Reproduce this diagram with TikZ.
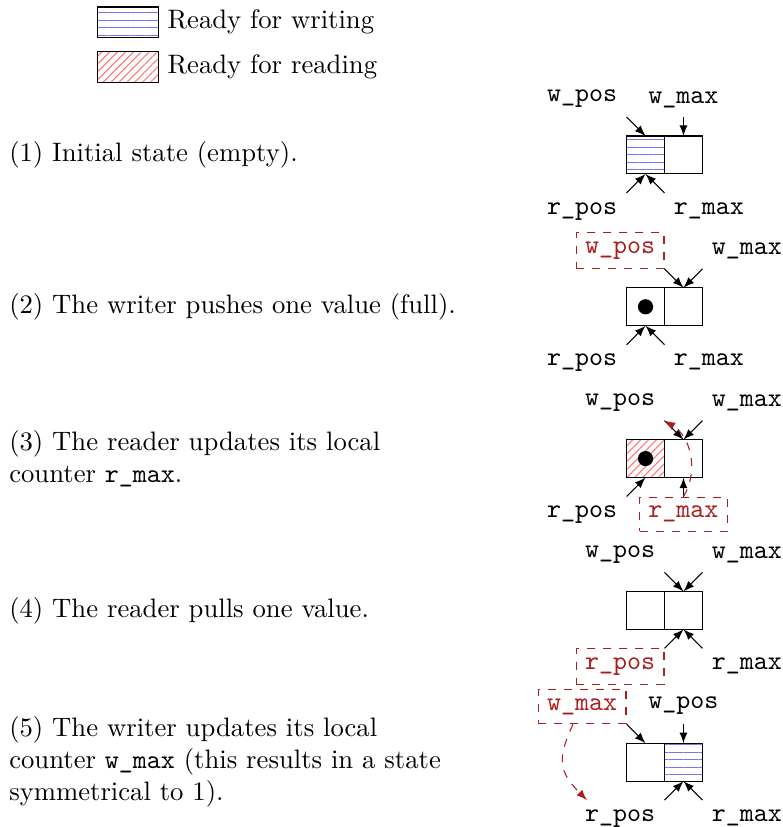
\documentclass[tikz,border=0pt]{standalone}
\usepackage{fontspec}
\usetikzlibrary{patterns.meta,arrows}
\definecolor{dred}{RGB}{170,30,30}
\tikzset{
  cell/.style={draw, rectangle, minimum width=0.5cm, minimum height=0.5cm, inner sep=0pt, outer sep=0pt},
  wpat/.style={pattern={Lines[angle=0,distance=2.8pt,line width=0.4pt]}, pattern color=blue!55},
  rpat/.style={pattern={Lines[angle=45,distance=2.1pt,line width=0.4pt]}, pattern color=red!55},
  dot/.style={circle, fill=black, minimum size=0.2cm, inner sep=0pt},
  lbl/.style={font=\ttfamily},
  chg/.style={lbl, draw=dred, text=dred, dashed},
  ptr/.style={-latex},
  upd/.style={-latex, dashed, draw=dred},
  desc/.style={anchor=west, text width=5.9cm, align=left, inner sep=0pt},
}
\begin{document}
\begin{tikzpicture}
\useasboundingbox (-8.755,-8.854) rectangle (1.561,2.042);

% legend
\node[cell, minimum width=0.8cm, minimum height=0.4cm, wpat] (lw) at (-7.071,1.75) {};
\node[anchor=west] (lwt) at (lw.east) {Ready for writing};
\node[cell, minimum width=0.8cm, minimum height=0.4cm, rpat] (lr) at (-7.071,1.16) {};
\node[anchor=west] (lrt) at (lr.east) {Ready for reading};

% descriptions
\node[desc] (t1) at (-8.64,0) {(1) Initial state (empty).};
\node[desc] (t2) at (-8.64,-2) {(2) The writer pushes one value (full).};
\node[desc] (t3) at (-8.64,-4) {(3) The reader updates its local counter \texttt{r\_max}.};
\node[desc] (t4) at (-8.64,-6) {(4) The reader pulls one value.};
\node[desc] (t5) at (-8.64,-8) {(5) The writer updates its local counter \texttt{w\_max} (this results in a state symmetrical to 1).};

% stage 1
\node[cell, wpat] (c1a) at (-0.25,0) {};
\node[cell] (c1b) at (0.25,0) {};
\node[lbl, anchor=south east] (w1) at (-0.5,0.5) {w\_pos};
\node[lbl, anchor=south] (x1) at (0.25,0.5) {w\_max};
\node[lbl, anchor=north east] (r1) at (-0.5,-0.5) {r\_pos};
\node[lbl, anchor=north west] (m1) at (0,-0.5) {r\_max};
\draw[ptr] (w1.south east) -- (c1a.north);
\draw[ptr] (x1.south) -- (c1b.north);
\draw[ptr] (r1.north east) -- (c1a.south);
\draw[ptr] (m1.north west) -- (c1a.south);

% stage 2
\node[cell] (c2a) at (-0.25,-2) {};
\node[cell] (c2b) at (0.25,-2) {};
\node[dot] (d2) at (c2a) {};
\node[chg, anchor=south east] (w2) at (0,-1.5) {w\_pos};
\node[lbl, anchor=south west] (x2) at (0.5,-1.5) {w\_max};
\node[lbl, anchor=north east] (r2) at (-0.5,-2.5) {r\_pos};
\node[lbl, anchor=north west] (m2) at (0,-2.5) {r\_max};
\draw[ptr] (w2.south east) -- (c2b.north);
\draw[ptr] (x2.south west) -- (c2b.north);
\draw[ptr] (r2.north east) -- (c2a.south);
\draw[ptr] (m2.north west) -- (c2a.south);

% stage 3
\node[cell, rpat] (c3a) at (-0.25,-4) {};
\node[cell] (c3b) at (0.25,-4) {};
\node[dot] (d3) at (c3a) {};
\node[lbl, anchor=south east] (w3) at (0,-3.5) {w\_pos};
\node[lbl, anchor=south west] (x3) at (0.5,-3.5) {w\_max};
\node[lbl, anchor=north east] (r3) at (-0.5,-4.5) {r\_pos};
\node[chg, anchor=north] (m3) at (0.25,-4.5) {r\_max};
\draw[ptr] (w3.south east) -- (c3b.north);
\draw[ptr] (x3.south west) -- (c3b.north);
\draw[ptr] (r3.north east) -- (c3a.south);
\draw[ptr] (m3.north) -- (c3b.south);
\draw[upd] (m3.north) to[bend right=45] (w3.south east);

% stage 4
\node[cell] (c4a) at (-0.25,-6) {};
\node[cell] (c4b) at (0.25,-6) {};
\node[lbl, anchor=south east] (w4) at (0,-5.5) {w\_pos};
\node[lbl, anchor=south west] (x4) at (0.5,-5.5) {w\_max};
\node[chg, anchor=north east] (r4) at (0,-6.5) {r\_pos};
\node[lbl, anchor=north west] (m4) at (0.5,-6.5) {r\_max};
\draw[ptr] (w4.south east) -- (c4b.north);
\draw[ptr] (x4.south west) -- (c4b.north);
\draw[ptr] (r4.north east) -- (c4b.south);
\draw[ptr] (m4.north west) -- (c4b.south);

% stage 5
\node[cell] (c5a) at (-0.25,-8) {};
\node[cell, wpat] (c5b) at (0.25,-8) {};
\node[chg, anchor=south east] (x5) at (-0.5,-7.5) {w\_max};
\node[lbl, anchor=south] (w5) at (0.25,-7.5) {w\_pos};
\node[lbl, anchor=north east] (r5) at (0,-8.5) {r\_pos};
\node[lbl, anchor=north west] (m5) at (0.5,-8.5) {r\_max};
\draw[ptr] (x5.south east) -- (c5a.north);
\draw[ptr] (w5.south) -- (c5b.north);
\draw[ptr] (r5.north east) -- (c5b.south);
\draw[ptr] (m5.north west) -- (c5b.south);
\draw[upd] ([xshift=-0.12cm]x5.south) to[out=-115,in=135,looseness=1.3] ([xshift=0.15cm]r5.north west);
\end{tikzpicture}
\end{document}
